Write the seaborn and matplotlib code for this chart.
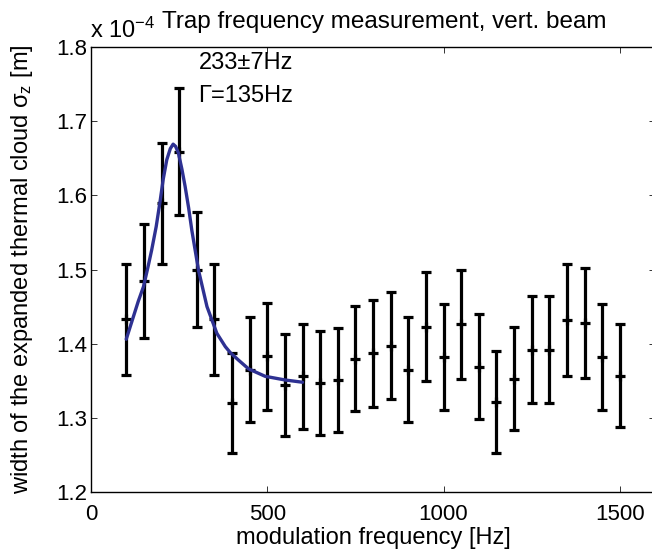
import numpy as np
import pandas as pd
import seaborn as sns
import matplotlib.pyplot as plt

# measured cloud width (units of 1e-4 m) vs modulation frequency
freq = [100, 150, 200, 250, 300, 350, 400, 450, 500, 550, 600, 650, 700, 750, 800,
        850, 900, 950, 1000, 1050, 1100, 1150, 1200, 1250, 1300, 1350, 1400, 1450, 1500]
width = [1.433, 1.484, 1.589, 1.659, 1.500, 1.433, 1.320, 1.365, 1.383, 1.344, 1.356,
         1.347, 1.351, 1.380, 1.387, 1.397, 1.365, 1.423, 1.382, 1.426, 1.369, 1.321,
         1.353, 1.392, 1.392, 1.432, 1.428, 1.382, 1.357]
width_err = [0.075, 0.077, 0.082, 0.086, 0.078, 0.075, 0.068, 0.071, 0.072, 0.069,
             0.071, 0.070, 0.070, 0.071, 0.072, 0.072, 0.071, 0.073, 0.072, 0.074,
             0.071, 0.069, 0.070, 0.072, 0.072, 0.075, 0.074, 0.071, 0.070]

# lorentzian fit curve
fit_freq = [100, 120, 134, 149, 161, 172, 185, 196, 205, 215, 225, 233, 240, 248,
            258, 267, 277, 286, 305, 329, 357, 381, 395, 418, 447, 494, 551, 600]
fit_width = [1.406, 1.436, 1.457, 1.477, 1.502, 1.526, 1.558, 1.592, 1.622, 1.648,
             1.663, 1.669, 1.666, 1.657, 1.635, 1.612, 1.583, 1.553, 1.499, 1.450,
             1.414, 1.396, 1.388, 1.378, 1.366, 1.356, 1.351, 1.348]

df = pd.DataFrame({"freq": freq, "width": width, "err": width_err})
fit = pd.DataFrame({"freq": fit_freq, "width": fit_width})

sns.set_style("ticks")
plt.rcParams["font.family"] = ["Liberation Sans", "DejaVu Sans"]
plt.rcParams["mathtext.fontset"] = "custom"
plt.rcParams["mathtext.rm"] = "Liberation Sans"
plt.rcParams["mathtext.it"] = "Liberation Sans:italic"
plt.rcParams["mathtext.default"] = "regular"
for k in ["text.color", "axes.labelcolor", "xtick.labelcolor", "ytick.labelcolor"]:
    plt.rcParams[k] = "black"

fs = 17
fig = plt.figure(figsize=(6.52, 5.52), dpi=100)
ax = fig.add_axes([91/652, 60/552, 564/652, 445/552])

ax.errorbar(df.freq, df.width, yerr=df.err, fmt="none", ecolor="black",
            elinewidth=2.3, capsize=3.4, capthick=2.3, zorder=2)
sns.scatterplot(data=df, x="freq", y="width", marker="+", s=48, color="black",
                linewidth=2.3, ax=ax, zorder=3)
sns.lineplot(data=fit, x="freq", y="width", color="#2E3192", linewidth=2.4,
             ax=ax, zorder=4)

ax.set_xlim(0, 1600)
ax.set_ylim(1.2, 1.8)
ax.set_xticks([0, 500, 1000, 1500])
ax.set_yticks(np.arange(1.2, 1.81, 0.1))
ax.set_yticklabels(["1.2", "1.3", "1.4", "1.5", "1.6", "1.7", "1.8"])
ax.tick_params(direction="in", length=4, width=0.7, labelsize=16,
               top=True, right=True, color="#333333")
ax.tick_params(axis="x", pad=9)
ax.tick_params(axis="y", pad=3)
for s in ax.spines.values():
    s.set_linewidth(1.0)
    s.set_color("black")

ax.set_xlabel("modulation frequency [Hz]", fontsize=fs, labelpad=1)
ax.set_ylabel("width of the expanded thermal cloud σ$_z$ [m]", fontsize=fs)
ax.yaxis.set_label_coords(-0.1, 0.5)

ax.set_title("Trap frequency measurement, vert. beam", fontsize=17.5,
             x=(162 - 91) / 564, ha="left", pad=13.5)
ax.text(-0.002, 1.0 + 9/445, "x 10$^{-4}$", transform=ax.transAxes,
        fontsize=fs, ha="left", va="baseline")
ax.text(305, 1.770, "233±7Hz", fontsize=fs, ha="left", va="baseline")
ax.text(305, 1.726, "Γ=135Hz", fontsize=fs, ha="left", va="baseline")

fig.savefig("out.png", dpi=100)
